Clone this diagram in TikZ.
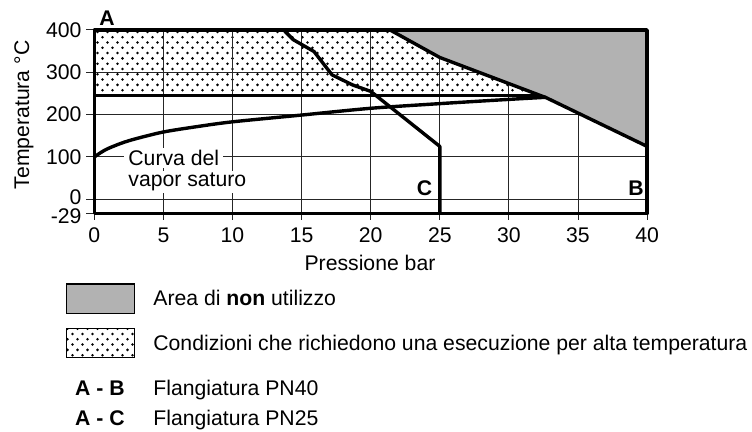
\documentclass[tikz,border=0pt]{standalone}
\usepackage{fontspec}
\setmainfont{Liberation Sans}
\usetikzlibrary{patterns}

\pgfdeclarepatternformonly{hotdots}{\pgfqpoint{-1pt}{-1pt}}{\pgfqpoint{6pt}{6.3pt}}{\pgfqpoint{5pt}{5.3pt}}{%
  \pgfpathcircle{\pgfqpoint{1.25pt}{1.3pt}}{0.7pt}%
  \pgfpathcircle{\pgfqpoint{3.75pt}{3.95pt}}{0.7pt}%
  \pgfusepath{fill}}
\definecolor{nouse}{gray}{0.7}

\tikzset{
  heavy/.style={line width=1.7pt, line join=round},
  gridline/.style={line width=0.5pt, black!85},
  txt/.style={font=\fontsize{10.6}{12}\selectfont, inner sep=0pt},
  bold/.style={txt, font=\fontsize{10.6}{12}\selectfont\bfseries},
}

\begin{document}
\begin{tikzpicture}[x=0.5pt, y=-0.5pt]
  \useasboundingbox (0,0) rectangle (752,432);

  \begin{scope}[shift={(94.3,199.3)}, x=6.91pt, y=0.21165pt]
    \fill[pattern=hotdots] (0,245) rectangle (40,400);

    \foreach \x in {5,10,...,35}
      \draw[gridline] (\x,-34) -- (\x,400);
    \foreach \y in {0,100,200,300}
      \draw[gridline] (0,\y) -- (40,\y);

    \fill[nouse] (21.4,400) -- (40,400) -- (40,125) -- (32.7,240) -- (25,335) -- cycle;

    \foreach \y/\t/\d in {400/400/0,300/300/0,200/200/0,100/100/0,0/0/6,-34/-29/-6} {
      \draw[gridline] (-0.58,\y) -- (0,\y);
      \node[txt, anchor=east] (yt\t) at (-0.9,\y+\d) {\t};
    }
    \foreach \x in {0,5,...,40} {
      \draw[gridline] (\x,-34) -- (\x,-48);
      \node[txt] (xt\x) at (\x,-84) {\x};
    }

    \node[txt, fill=white, inner xsep=2pt, inner ysep=1pt, anchor=west] (curva1) at (2.15,97) {Curva del};
    \node[txt, fill=white, inner xsep=2pt, inner ysep=1pt, anchor=west] (curva2) at (2.15,41) {vapor saturo};

    \draw[heavy] (0,245) -- (32.4,245);
    \draw[heavy] plot[smooth] coordinates {(0,100) (0.5,111) (1,120) (2,133) (3,143) (5,159) (7.5,172) (10,183) (15,199) (20,215) (25,226) (30,236) (32.7,241)};
    \draw[heavy] (13.7,400) -- (14.4,377) -- (15.9,349) -- (17.2,294) -- (18.7,270) -- (20,255) -- (20.5,242) -- (25,125) -- (25,-34);
    \draw[heavy] (21.4,400) -- (25,335) -- (32.7,240) -- (40,125);
    \draw[heavy] (0,-34) rectangle (40,400);

    \node[bold] (A) at (0.92,428) {A};
    \node[bold] (C) at (23.9,27) {C};
    \node[bold] (B) at (39.2,27) {B};
  \end{scope}

  \node[txt, rotate=90] (ylab) at (24,115) {Temperatura °C};
  \node[txt] (xlab) at (370,263) {Pressione bar};

  \draw[line width=0.75pt, fill=nouse] (66.7,284) rectangle (134.3,313.3);
  \draw[line width=0.75pt, pattern=hotdots] (66.7,328.3) rectangle (134.3,357.3);
  \node[txt, anchor=base west] (leg1) at (153,306) {Area di \textbf{non} utilizzo};
  \node[txt, anchor=base west] (leg2) at (153,350.5) {Condizioni che richiedono una esecuzione per alta temperatura};
  \node[bold, anchor=base east] (ab) at (125,395.5) {A - B};
  \node[txt, anchor=base west] (pn40) at (153,395.5) {Flangiatura PN40};
  \node[bold, anchor=base east] (ac) at (125,425.5) {A - C};
  \node[txt, anchor=base west] (pn25) at (153,425.5) {Flangiatura PN25};
\end{tikzpicture}
\end{document}
